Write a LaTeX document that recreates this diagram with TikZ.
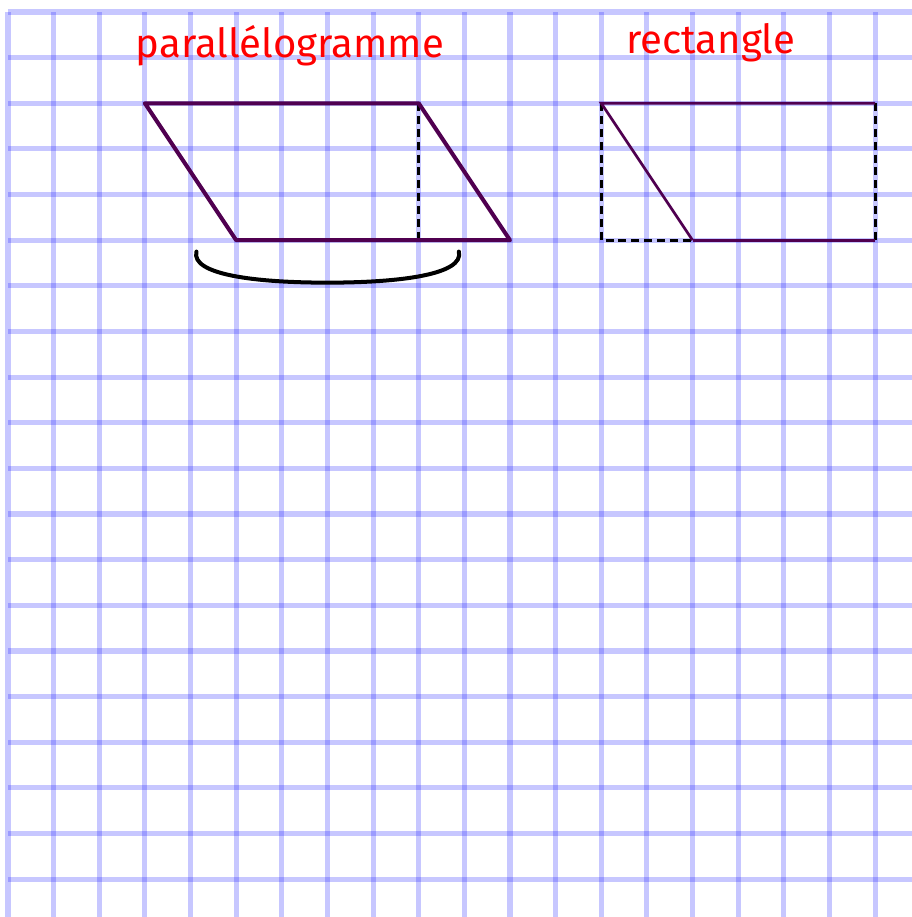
\documentclass[tikz,border=0pt]{standalone}
\usepackage{fontspec}
\setmainfont{Fira Sans}
\definecolor{figcol}{RGB}{80,0,80}
\tikzset{
    gridline/.style={blue, opacity=0.22, line width=3.2pt},
    figline/.style={figcol, line width=2.5pt, line cap=round, line join=round},
    thinfig/.style={figcol, line width=1.7pt},
    hauteur/.style={black, line width=1.8pt, dash pattern=on 5pt off 3pt},
    titre/.style={red, font=\fontsize{25}{29}\selectfont}
}
\begin{document}
\begin{tikzpicture}
    \useasboundingbox (-0.175,0.263) rectangle (19.80,-19.83);

    \foreach \i in {0,...,19} {
        \draw[gridline] (\i,0) -- (\i,-19.83);
        \draw[gridline] (0,-\i) -- (19.80,-\i);
    }

    \node[titre] (tpara) at (6.18,-0.74) {parallélogramme};
    \node[titre] (trect) at (15.4,-0.68) {rectangle};

    \coordinate (A) at (3,-2);
    \coordinate (B) at (9,-2);
    \coordinate (C) at (11,-5);
    \coordinate (D) at (5,-5);
    \coordinate (H) at (9,-5);

    \draw[hauteur] (B) -- (H);
    \draw[figline] (A) -- (B) -- (C) -- (D) -- cycle;
    \draw[black, line width=2.5pt, line cap=round]
        (4.13,-5.25) .. controls (4.0,-5.75) and (5.4,-5.93) .. (7.0,-5.93)
        .. controls (8.6,-5.93) and (10.0,-5.75) .. (9.88,-5.25);

    \coordinate (E) at (13,-2);
    \coordinate (F) at (19,-2);
    \coordinate (G) at (19,-5);
    \coordinate (K) at (15,-5);
    \coordinate (L) at (13,-5);

    \draw[hauteur] (E) -- (L) -- (K);
    \draw[hauteur] (F) -- (G);
    \draw[thinfig] (K) -- (E) -- (F);
    \draw[thinfig] (K) -- (G);
\end{tikzpicture}
\end{document}
